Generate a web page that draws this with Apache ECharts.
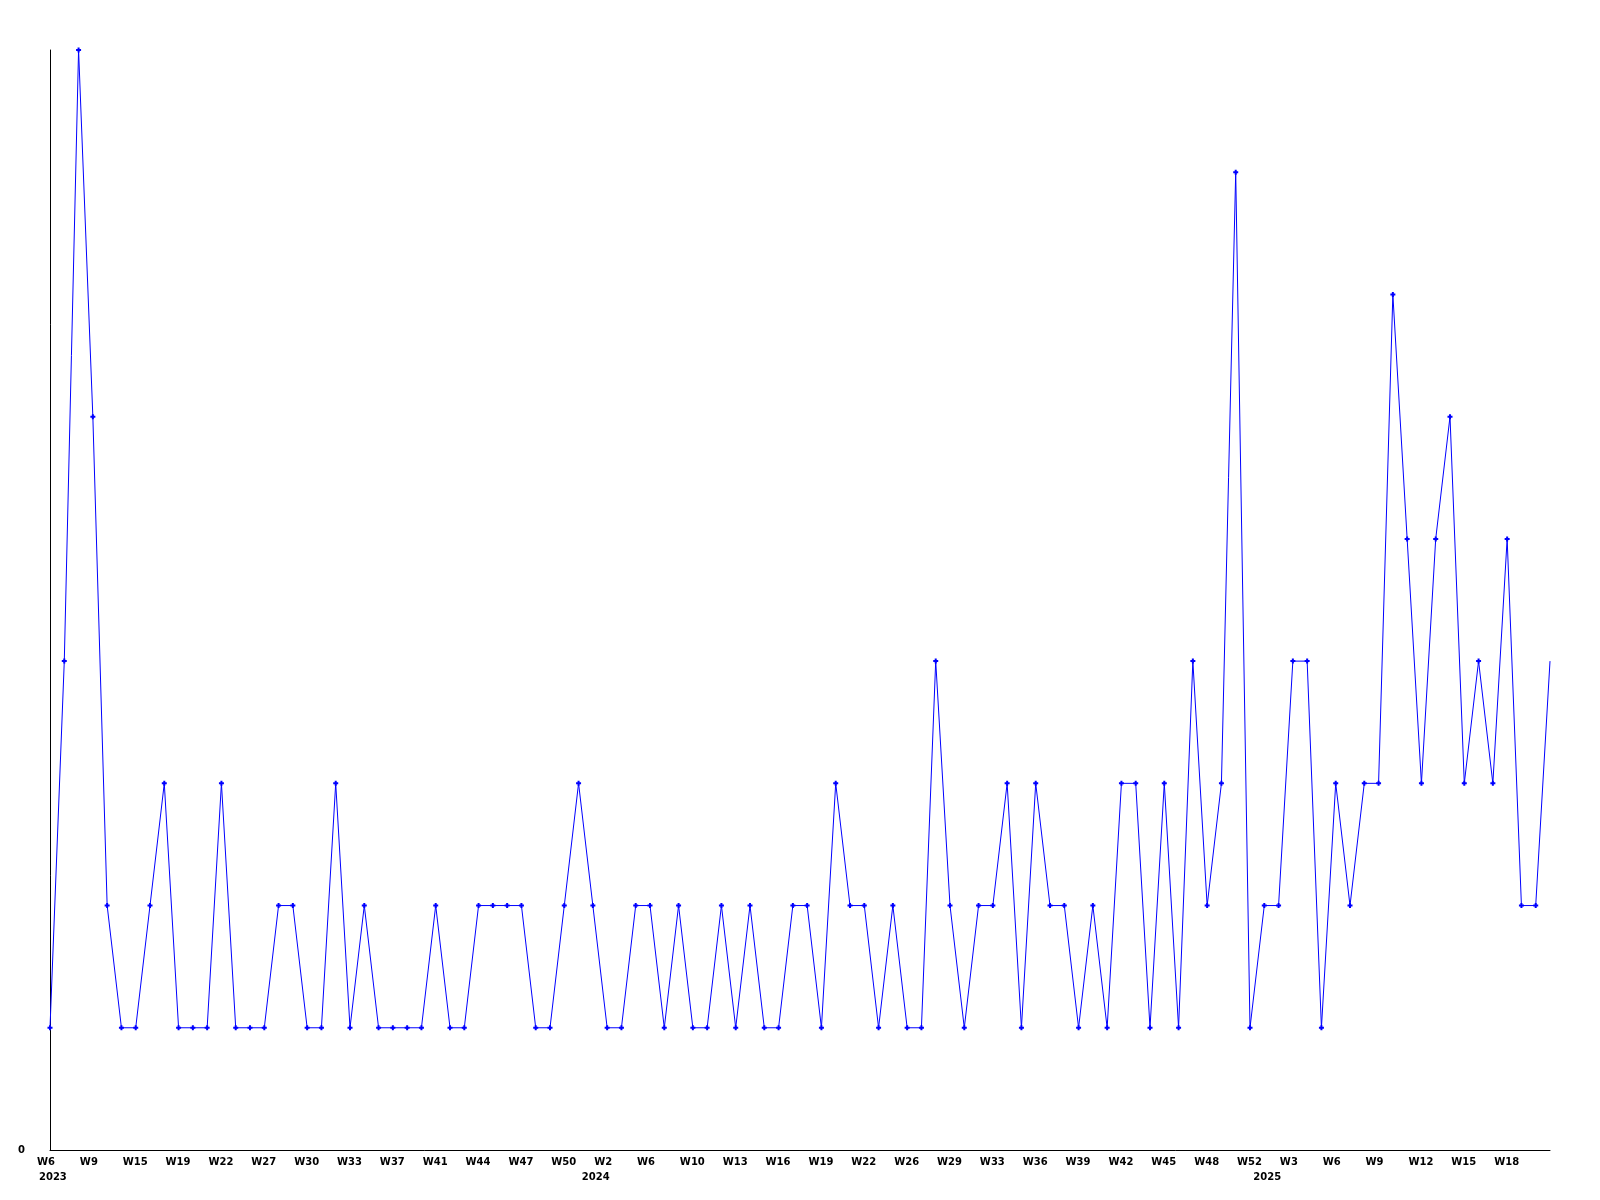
<!DOCTYPE html>
<html>
<head>
<meta charset="utf-8">
<script src="https://cdn.jsdelivr.net/npm/echarts@6/dist/echarts.min.js"></script>
<style>
html,body{margin:0;padding:0;background:#fff;}
#chart{width:1600px;height:1200px;}
</style>
</head>
<body>
<div id="chart"></div>
<script>
// Categories: year-week of each observation (every third one is labelled)
const categories = [
  '2023-W6','2023-W7','2023-W8','2023-W9','2023-W11','2023-W13','2023-W15','2023-W16','2023-W18','2023-W19',
  '2023-W20','2023-W21','2023-W22','2023-W24','2023-W26','2023-W27','2023-W28','2023-W29','2023-W30','2023-W31',
  '2023-W32','2023-W33','2023-W35','2023-W36','2023-W37','2023-W38','2023-W40','2023-W41','2023-W42','2023-W43',
  '2023-W44','2023-W45','2023-W46','2023-W47','2023-W48','2023-W49','2023-W50','2023-W52','2024-W1','2024-W2',
  '2024-W3','2024-W4','2024-W6','2024-W7','2024-W8','2024-W10','2024-W11','2024-W12','2024-W13','2024-W14',
  '2024-W15','2024-W16','2024-W17','2024-W18','2024-W19','2024-W20','2024-W21','2024-W22','2024-W24','2024-W25',
  '2024-W26','2024-W27','2024-W28','2024-W29','2024-W30','2024-W32','2024-W33','2024-W34','2024-W35','2024-W36',
  '2024-W37','2024-W38','2024-W39','2024-W40','2024-W41','2024-W42','2024-W43','2024-W44','2024-W45','2024-W46',
  '2024-W47','2024-W48','2024-W49','2024-W51','2024-W52','2025-W1','2025-W2','2025-W3','2025-W4','2025-W5',
  '2025-W6','2025-W7','2025-W8','2025-W9','2025-W10','2025-W11','2025-W12','2025-W13','2025-W14','2025-W15',
  '2025-W16','2025-W17','2025-W18','2025-W19','2025-W20','2025-W21'
];

// Series values
const counts = [
  1,4,9,6,2,1,1,2,3,1,
  1,1,3,1,1,1,2,2,1,1,
  3,1,2,1,1,1,1,2,1,1,
  2,2,2,2,1,1,2,3,2,1,
  1,2,2,1,2,1,1,2,1,2,
  1,1,2,2,1,3,2,2,1,2,
  1,1,4,2,1,2,2,3,1,3,
  2,2,1,2,1,3,3,1,3,1,
  4,2,3,8,1,2,2,4,4,1,
  3,2,3,3,7,5,3,5,6,3,
  4,3,5,2,2,4
];

// Y axis range / tick labels
const yMin = 0;
const yMax = 9;
const yTickLabels = ['0'];

const labelFont = { fontFamily: 'DejaVu Sans', fontWeight: 'bold', fontSize: 10, color: '#000' };
const lastIdx = categories.length - 1;

const seriesData = counts.map((v, i) =>
  i === lastIdx ? { value: v, symbol: 'none' } : v
);

function weekOf(c) { return c.split('-')[1]; }
function yearOf(c) { return c.split('-')[0]; }

const richWeek = { t: Object.assign({ width: 26, align: 'left' }, labelFont) };
const richYear = { t: Object.assign({ width: 22, align: 'left' }, labelFont) };

const chart = echarts.init(document.getElementById('chart'), null, { renderer: 'canvas' });
chart.setOption({
  animation: false,
  backgroundColor: '#ffffff',
  grid: { left: 50, right: 50, top: 50, bottom: 50, containLabel: false },
  xAxis: [{
    type: 'category',
    data: categories,
    boundaryGap: false,
    axisLine: { show: true, lineStyle: { color: '#000', width: 1 } },
    axisTick: { show: false },
    splitLine: { show: false },
    axisLabel: {
      interval: function (idx) { return idx % 3 === 0 && idx < lastIdx; },
      margin: 7,
      align: 'center',
      formatter: function (val) { return '{t|' + weekOf(val) + '}'; },
      rich: richWeek,
      ...labelFont
    }
  }, {
    type: 'category',
    data: categories,
    boundaryGap: false,
    position: 'bottom',
    axisLine: { show: false },
    axisTick: { show: false },
    splitLine: { show: false },
    axisLabel: {
      interval: function (idx, val) { return idx === 0 || weekOf(val) === 'W1'; },
      margin: 22,
      align: 'center',
      formatter: function (val) { return '{t|' + yearOf(val) + '}'; },
      rich: richYear,
      ...labelFont
    }
  }],
  yAxis: {
    type: 'value',
    min: yMin,
    max: yMax,
    interval: yMax - yMin,
    axisLine: { show: true, lineStyle: { color: '#000', width: 1 } },
    axisTick: { show: false },
    splitLine: { show: false },
    axisLabel: {
      margin: 25,
      formatter: function (v) { return v === yMin ? yTickLabels[0] : ''; },
      ...labelFont
    }
  },
  series: [{
    type: 'line',
    xAxisIndex: 0,
    data: seriesData,
    symbol: 'path://M1.5,0 H3.5 V1.5 H5 V3.5 H3.5 V5 H1.5 V3.5 H0 V1.5 H1.5 Z',
    symbolSize: 5,
    showSymbol: true,
    showAllSymbol: true,
    lineStyle: { color: '#0000ff', width: 1 },
    itemStyle: { color: '#0000ff' },
    emphasis: { disabled: true }
  }]
});
</script>
</body>
</html>
